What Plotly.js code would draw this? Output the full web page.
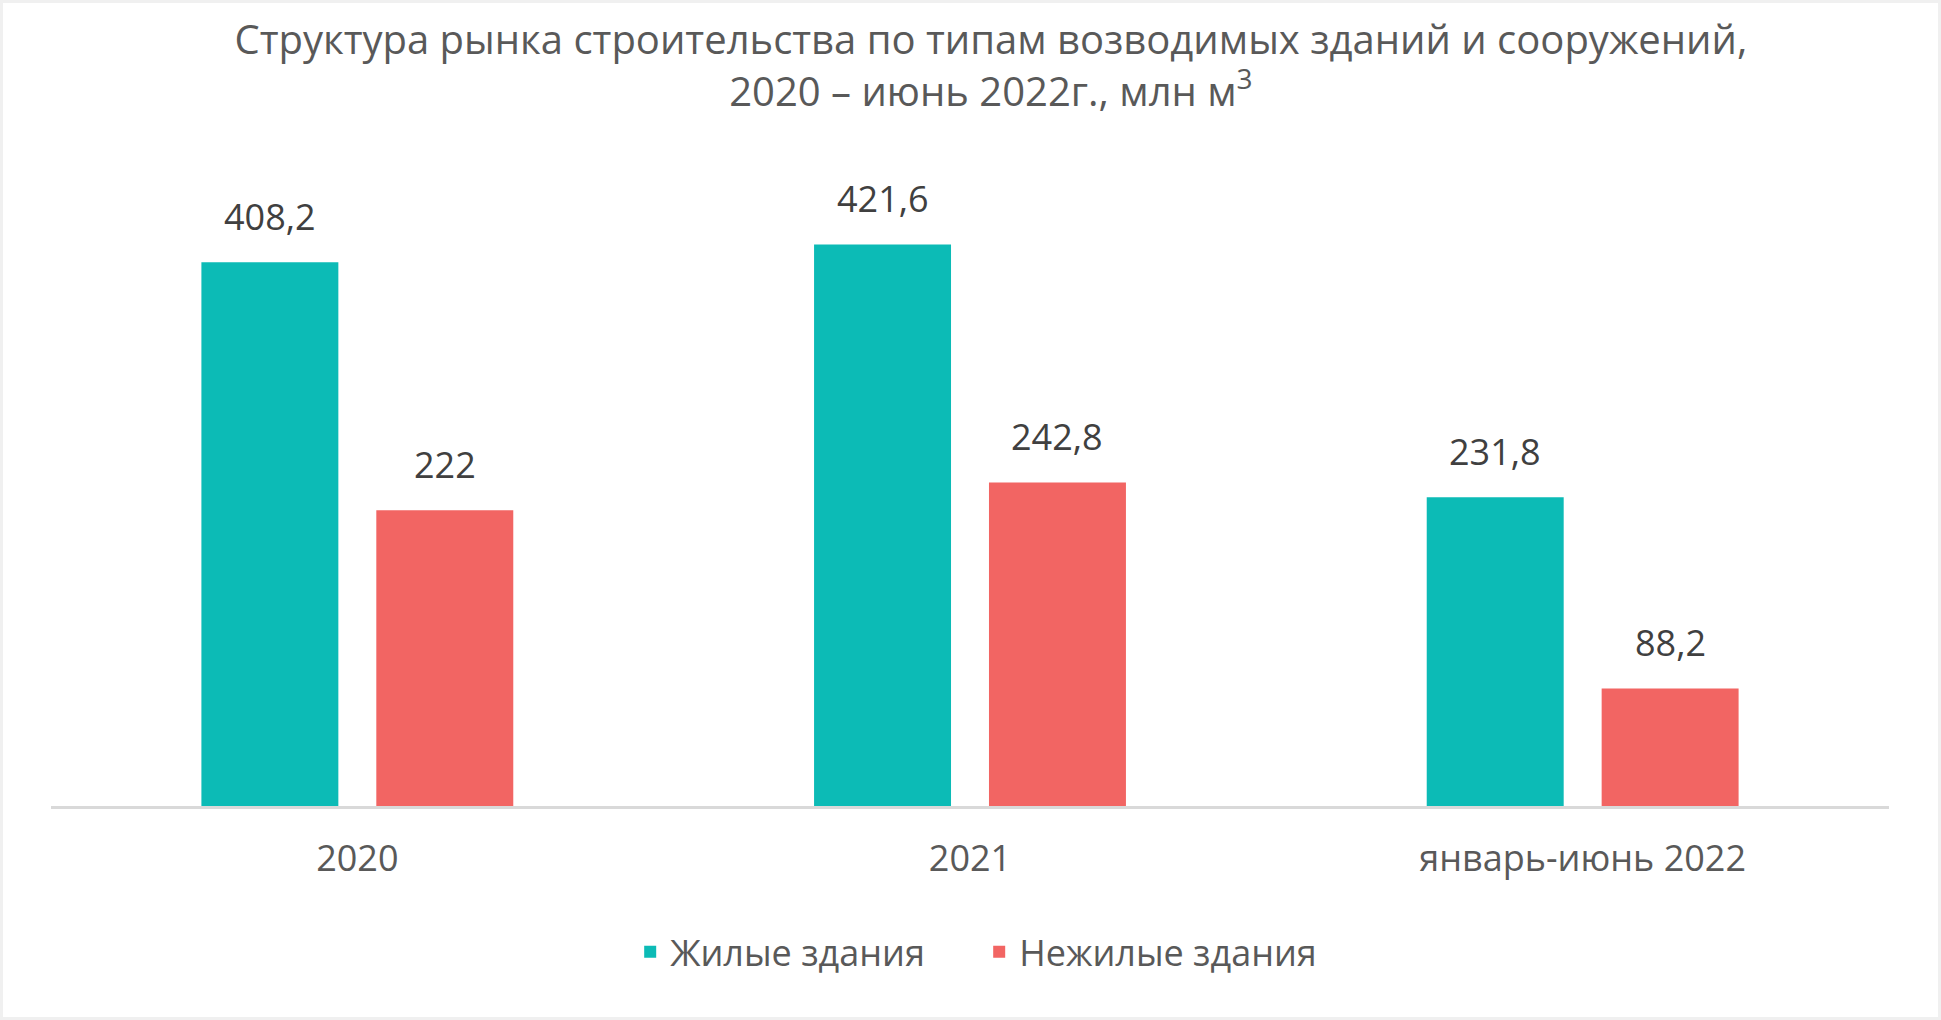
<!DOCTYPE html>
<html>
<head>
<meta charset="utf-8">
<script src="https://cdn.plot.ly/plotly-3.0.1.min.js"></script>
<style>
  html, body { margin: 0; padding: 0; background: #ffffff; }
  #wrap { position: relative; width: 1941px; height: 1020px; }
  #chart { position: absolute; left: 0; top: 0; width: 1941px; height: 1020px; }
  #frame { position: absolute; left: 0; top: 0; width: 1941px; height: 1020px; box-sizing: border-box; border: 3px solid #f0f0f0; pointer-events: none; }
</style>
</head>
<body>
<div id="wrap"><div id="chart"></div><div id="frame"></div></div>
<script>
const categories = ['2020', '2021', 'январь-июнь 2022'];
const residential = [408.2, 421.6, 231.8];
const nonResidential = [222, 242.8, 88.2];
const seriesNames = ['Жилые здания', 'Нежилые здания'];
const colors = ['#0CBBB6', '#F26563'];

const fmt = v => String(v).replace('.', ',');

const traces = [
  { type: 'bar', name: seriesNames[0], x: categories, y: residential,
    marker: { color: colors[0] }, hoverinfo: 'none' },
  { type: 'bar', name: seriesNames[1], x: categories, y: nonResidential,
    marker: { color: colors[1] }, hoverinfo: 'none' }
];

const plotW = 1941 - 51 - 52;
const bargap = 0.429, bargroupgap = 0.217;
const slot = plotW / categories.length * (1 - bargap) / 2;
const labelFont = { family: 'Open Sans, sans-serif', size: 36, color: '#404040' };

const annotations = [];
[residential, nonResidential].forEach((vals, s) => {
  vals.forEach((v, i) => {
    annotations.push({
      x: i, y: v, xref: 'x', yref: 'y',
      text: fmt(v), showarrow: false, font: labelFont,
      xanchor: 'center', yanchor: 'middle',
      xshift: (s === 0 ? -1 : 1) * slot / 2, yshift: 46
    });
  });
});

const layout = {
  width: 1941, height: 1020,
  margin: { l: 51, r: 52, t: 140, b: 214 },
  paper_bgcolor: '#ffffff', plot_bgcolor: '#ffffff',
  font: { family: 'Open Sans, sans-serif', color: '#595959' },
  title: {
    text: 'Структура рынка строительства по типам возводимых зданий и сооружений,<br>2020 – июнь 2022г., млн м<sup>3</sup>',
    font: { family: 'Open Sans, sans-serif', size: 40, color: '#595959' },
    x: 0.5105, xanchor: 'center', xref: 'container',
    y: 0.947, yanchor: 'top', yref: 'container'
  },
  barmode: 'group', bargap: bargap, bargroupgap: bargroupgap,
  xaxis: {
    type: 'category', range: [-0.5, 2.5], autorange: false,
    showgrid: false, zeroline: false,
    showline: true, linecolor: '#d9d9d9', linewidth: 3,
    ticks: '', ticklabelstandoff: 19,
    tickfont: { family: 'Open Sans, sans-serif', size: 36, color: '#595959' }
  },
  yaxis: {
    range: [0, 500], autorange: false, showgrid: false, zeroline: false, showline: false,
    showticklabels: false, ticks: ''
  },
  showlegend: true,
  legend: {
    orientation: 'h', x: 0.505, xanchor: 'center', y: -0.219, yanchor: 'middle',
    yref: 'paper', entrywidth: 304,
    font: { family: 'Open Sans, sans-serif', size: 36, color: '#595959' },
    itemclick: false, itemdoubleclick: false
  },
  annotations: annotations
};

Plotly.newPlot('chart', traces, layout, { staticPlot: true, displayModeBar: false });
</script>
</body>
</html>
